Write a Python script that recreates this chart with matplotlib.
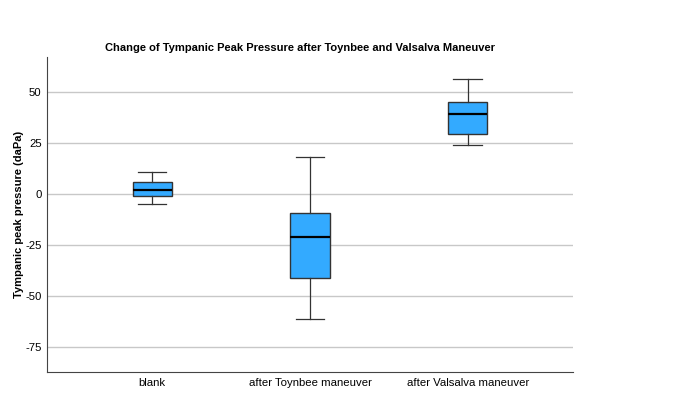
import matplotlib.pyplot as plt

plt.rcParams['font.family'] = ['Liberation Sans', 'DejaVu Sans']
plt.rcParams['axes.unicode_minus'] = False

groups = ["blank", "after Toynbee maneuver", "after Valsalva maneuver"]
whislo = [-5, -61, 24]
q1 = [-1, -41, 29.5]
med = [2, -21, 39]
q3 = [6, -9.5, 45]
whishi = [11, 18, 56]

stats = []
for i, g in enumerate(groups):
    stats.append({"label": g, "whislo": whislo[i], "q1": q1[i], "med": med[i],
                  "q3": q3[i], "whishi": whishi[i], "fliers": []})

fig = plt.figure(figsize=(6.82, 4.07), dpi=100)
ax = fig.add_axes([0.069, 0.086, 0.771, 0.774])

ax.bxp(stats, positions=[1, 2, 3], widths=0.25, patch_artist=True,
       boxprops=dict(facecolor="#33aaff", edgecolor="#333333", linewidth=1),
       medianprops=dict(color="black", linewidth=1.6),
       whiskerprops=dict(color="#333333", linewidth=0.9),
       capprops=dict(color="#333333", linewidth=0.9),
       capwidths=0.18, zorder=3)

ax.set_xlim(0.333, 3.667)
ax.set_ylim(-87, 67)
ax.set_yticks([50, 25, 0, -25, -50, -75])
ax.yaxis.grid(True, color="#c8c8c8", linewidth=1, zorder=0)
ax.set_axisbelow(True)
ax.tick_params(length=0, labelsize=8.2)
ax.tick_params(axis="y", pad=4)
ax.tick_params(axis="x", pad=4)
for s in ["top", "right"]:
    ax.spines[s].set_visible(False)
for s in ["left", "bottom"]:
    ax.spines[s].set_color("#444444")
ax.set_ylabel("Tympanic peak pressure (daPa)", fontsize=8, fontweight="bold")
ax.yaxis.set_label_coords(-0.044, 0.5)
ax.set_title("Change of Tympanic Peak Pressure after Toynbee and Valsalva Maneuver",
             fontsize=8, fontweight="bold", pad=4, x=0.481)

fig.savefig("out.png", dpi=100)
